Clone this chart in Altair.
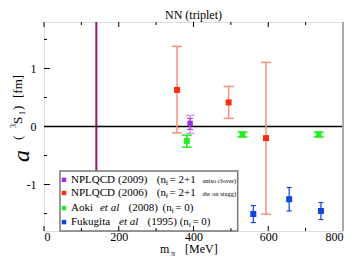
import altair as alt
import pandas as pd

# ---------------- data ----------------
npl09_m = [391]
npl09_a = [0.053]
npl09_stat_lo = [-0.05]
npl09_stat_hi = [0.14]
npl09_tot_lo = [-0.12]
npl09_tot_hi = [0.19]

npl06_m = [356, 494, 594]
npl06_a = [0.63, 0.415, -0.20]
npl06_lo = [-0.11, 0.14, -1.51]
npl06_hi = [1.38, 0.69, 1.105]

aoki_m = [382, 531, 735]
aoki_a = [-0.248, -0.137, -0.137]
aoki_lo = [-0.356, -0.18, -0.18]
aoki_hi = [-0.149, -0.095, -0.095]

fuku_m = [560, 656, 741]
fuku_a = [-1.507, -1.253, -1.455]
fuku_lo = [-1.655, -1.455, -1.603]
fuku_hi = [-1.362, -1.051, -1.31]

physical_m_pi = [140]

x_major = [0, 200, 400, 600, 800]
x_minor = [100, 300, 500, 700]
y_major = [-1, 0, 1]
y_minor = [-1.5, -0.5, 0.5, 1.5]

# legend layout (data coordinates: MeV, fm)
legend_box = {"x": 42.8, "x2": 518.3, "y": -0.766, "y2": -1.8}
legend_rows = [-0.917, -1.145, -1.405, -1.647]
legend_marker_x = 53.5

W, H = 299, 209
FONT = "Liberation Serif"

xs = alt.Scale(domain=[0, 800], nice=False, zero=False)
ys = alt.Scale(domain=[-1.8, 1.8], nice=False, zero=False)
xaxis = alt.Axis(values=x_major, ticks=False, domain=False, grid=False, labelFont=FONT,
                 labelFontSize=12, labelColor="black", labelPadding=0, title=None, format="d")
yaxis = alt.Axis(values=y_major, ticks=False, domain=False, grid=False, labelFont=FONT,
                 labelFontSize=12, labelColor="black", labelPadding=8, title=None, format="d",
                 labelExpr="replace(datum.label, '\u2212', '-')")


def X(f):
    return alt.X(f, type="quantitative", scale=xs, axis=xaxis)


def Y(f):
    return alt.Y(f, type="quantitative", scale=ys, axis=yaxis)


def series_df(m, a, lo, hi):
    return pd.DataFrame({"m": m, "a": a, "lo": lo, "hi": hi})


def errbars(df, color, width, cap, lo="lo", hi="hi"):
    bar = alt.Chart(df).mark_rule(color=color, strokeWidth=width).encode(
        x=X("m"), y=Y(lo), y2=hi)
    cap_lo = alt.Chart(df).mark_rule(color=color, strokeWidth=width, xOffset=-cap, x2Offset=cap).encode(
        x=X("m"), x2="m", y=Y(lo))
    cap_hi = alt.Chart(df).mark_rule(color=color, strokeWidth=width, xOffset=-cap, x2Offset=cap).encode(
        x=X("m"), x2="m", y=Y(hi))
    return [bar, cap_lo, cap_hi]


def squares(df, color, size=36):
    return alt.Chart(df).mark_square(color=color, size=size, opacity=1).encode(x=X("m"), y=Y("a"))


one = pd.DataFrame({"d": [0]})


def ptext(t, x, y, size, angle=0, style="normal", align="left", baseline="alphabetic"):
    return alt.Chart(one).mark_text(text=t, font=FONT, fontSize=size, angle=angle, fontStyle=style,
                                    align=align, baseline=baseline, color="black").encode(
        x=alt.value(x), y=alt.value(y))


PURPLE, PURPLE_L, PURPLE_D = "#9933dd", "#dda0f0", "#aa44dd"
RED, RED_E = "#ff2a10", "#f9907e"
GREEN = "#22ee22"
BLUE = "#1144dd"

d09 = pd.DataFrame({"m": npl09_m, "a": npl09_a, "slo": npl09_stat_lo, "shi": npl09_stat_hi,
                    "tlo": npl09_tot_lo, "thi": npl09_tot_hi})
d06 = series_df(npl06_m, npl06_a, npl06_lo, npl06_hi)
dao = series_df(aoki_m, aoki_a, aoki_lo, aoki_hi)
dfu = series_df(fuku_m, fuku_a, fuku_lo, fuku_hi)

layers = []
# base with axes (invisible)
layers.append(alt.Chart(d06).mark_point(opacity=0).encode(x=X("m"), y=Y("a")))
# physical pion mass line
layers.append(alt.Chart(pd.DataFrame({"m": physical_m_pi})).mark_rule(color="#8b1a6e", strokeWidth=2).encode(
    x=X("m"), y=alt.value(0), y2=alt.value(H)))
# zero line
layers.append(alt.Chart(pd.DataFrame({"a": [0]})).mark_rule(color="black", strokeWidth=1.3).encode(
    y=Y("a"), x=alt.value(0), x2=alt.value(W)))

layers += errbars(d06, RED_E, 1.5, 5)
layers += errbars(d09, PURPLE_L, 1.5, 4.5, "tlo", "thi")
layers += errbars(d09, PURPLE_D, 1.2, 3, "slo", "shi")
layers += errbars(dao, GREEN, 1.5, 5)
layers += errbars(dfu, BLUE, 1.2, 2.5)
layers += [squares(d06, RED), squares(d09, PURPLE, 30), squares(dao, GREEN), squares(dfu, BLUE)]

# legend box
layers.append(alt.Chart(pd.DataFrame([legend_box])).mark_rect(fill="white", stroke="#777777", strokeWidth=1.5).encode(
    x=X("x"), x2="x2", y=Y("y"), y2="y2"))
leg_marks = pd.DataFrame({"m": [legend_marker_x] * 4, "a": legend_rows,
                          "c": ["p", "r", "g", "b"]})
layers.append(alt.Chart(leg_marks).mark_square(size=20, opacity=1).encode(
    x=X("m"), y=Y("a"),
    color=alt.Color("c:N", scale=alt.Scale(domain=["p", "r", "g", "b"], range=[PURPLE, RED, GREEN, BLUE]),
                    legend=None)))

r1, r2, r3, r4 = legend_rows
main_pieces = pd.DataFrame([
    {"t": "NPLQCD", "x": 72.2, "y": r1}, {"t": "(2009)", "x": 198, "y": r1},
    {"t": "(n", "x": 302, "y": r1}, {"t": "= 2+1", "x": 336, "y": r1},
    {"t": "NPLQCD", "x": 72.2, "y": r2}, {"t": "(2006)", "x": 198, "y": r2},
    {"t": "(n", "x": 302, "y": r2}, {"t": "= 2+1", "x": 336, "y": r2},
    {"t": "Aoki", "x": 72.2, "y": r3}, {"t": "(2008)", "x": 226, "y": r3},
    {"t": "(n", "x": 317, "y": r3}, {"t": "= 0)", "x": 351, "y": r3},
    {"t": "Fukugita", "x": 72.2, "y": r4}, {"t": "(1995)", "x": 277, "y": r4},
    {"t": "(n", "x": 363, "y": r4}, {"t": "= 0)", "x": 397, "y": r4},
])
ital_pieces = pd.DataFrame([
    {"t": "et al", "x": 149.8, "y": r3}, {"t": "et al", "x": 200.7, "y": r4},
])
sub_pieces = pd.DataFrame([
    {"t": "f", "x": 326, "y": r1}, {"t": "f", "x": 326, "y": r2},
    {"t": "f", "x": 341, "y": r3}, {"t": "f", "x": 387, "y": r4},
])
tiny_pieces = pd.DataFrame([
    {"t": "aniso clover)", "x": 424, "y": r1}, {"t": "dw on stagg)", "x": 424, "y": r2},
])


def piece_layer(df, size, style="normal", dy=0):
    return alt.Chart(df).mark_text(font=FONT, fontSize=size, fontStyle=style, align="left",
                                   baseline="middle", dy=dy, color="black").encode(
        x=X("x"), y=Y("y"), text="t:N")


layers += [piece_layer(main_pieces, 11), piece_layer(ital_pieces, 11, "italic"),
           piece_layer(sub_pieces, 7, dy=3), piece_layer(tiny_pieces, 6.5, dy=1)]

# inward ticks
layers.append(alt.Chart(pd.DataFrame({"a": y_major})).mark_rule(color="black").encode(
    y=Y("a"), x=alt.value(0), x2=alt.value(6)))
layers.append(alt.Chart(pd.DataFrame({"a": y_minor})).mark_rule(color="black").encode(
    y=Y("a"), x=alt.value(0), x2=alt.value(3)))
for vals, ln in ((x_major, 5), (x_minor, 3)):
    dfx = pd.DataFrame({"m": vals})
    layers.append(alt.Chart(dfx).mark_rule(color="black").encode(
        x=X("m"), y=alt.value(0), y2=alt.value(ln)))
    layers.append(alt.Chart(dfx).mark_rule(color="black").encode(
        x=X("m"), y=alt.value(H), y2=alt.value(H - ln)))

# right border (gray)
layers.append(alt.Chart(one).mark_rule(color="#aaaaaa", strokeWidth=2).encode(
    x=alt.value(W), y=alt.value(0), y2=alt.value(H)))

# titles
layers.append(ptext("NN (triplet)", W / 2, -3, 12, align="center"))
# y title: a (3S1) [fm]
layers.append(ptext("a", -15, 140, 24, angle=270, style="italic"))
layers.append(ptext("(", -22, 118, 13, angle=270))
layers.append(ptext("3", -28, 106, 8, angle=270))
layers.append(ptext("S", -22, 102, 13, angle=270))
layers.append(ptext("1", -19, 93, 8, angle=270))
layers.append(ptext(")", -22, 88, 13, angle=270))
layers.append(ptext("[fm]", -22, 76, 13, angle=270))
# x title: m_pi [MeV]
layers.append(ptext("m", 116, 231, 12))
layers.append(ptext("\u03c0", 127, 234, 8))
layers.append(ptext("[MeV]", 141, 231, 12))

chart = alt.layer(*layers).properties(
    width=W, height=H,
    autosize=alt.AutoSizeParams(type="none"),
    padding={"left": 36, "top": 14, "right": 3, "bottom": 27},
).configure_view(stroke="#222222", strokeWidth=1).configure(background="white")

chart.save("out.html", embed_options={"renderer": "svg", "actions": False})
